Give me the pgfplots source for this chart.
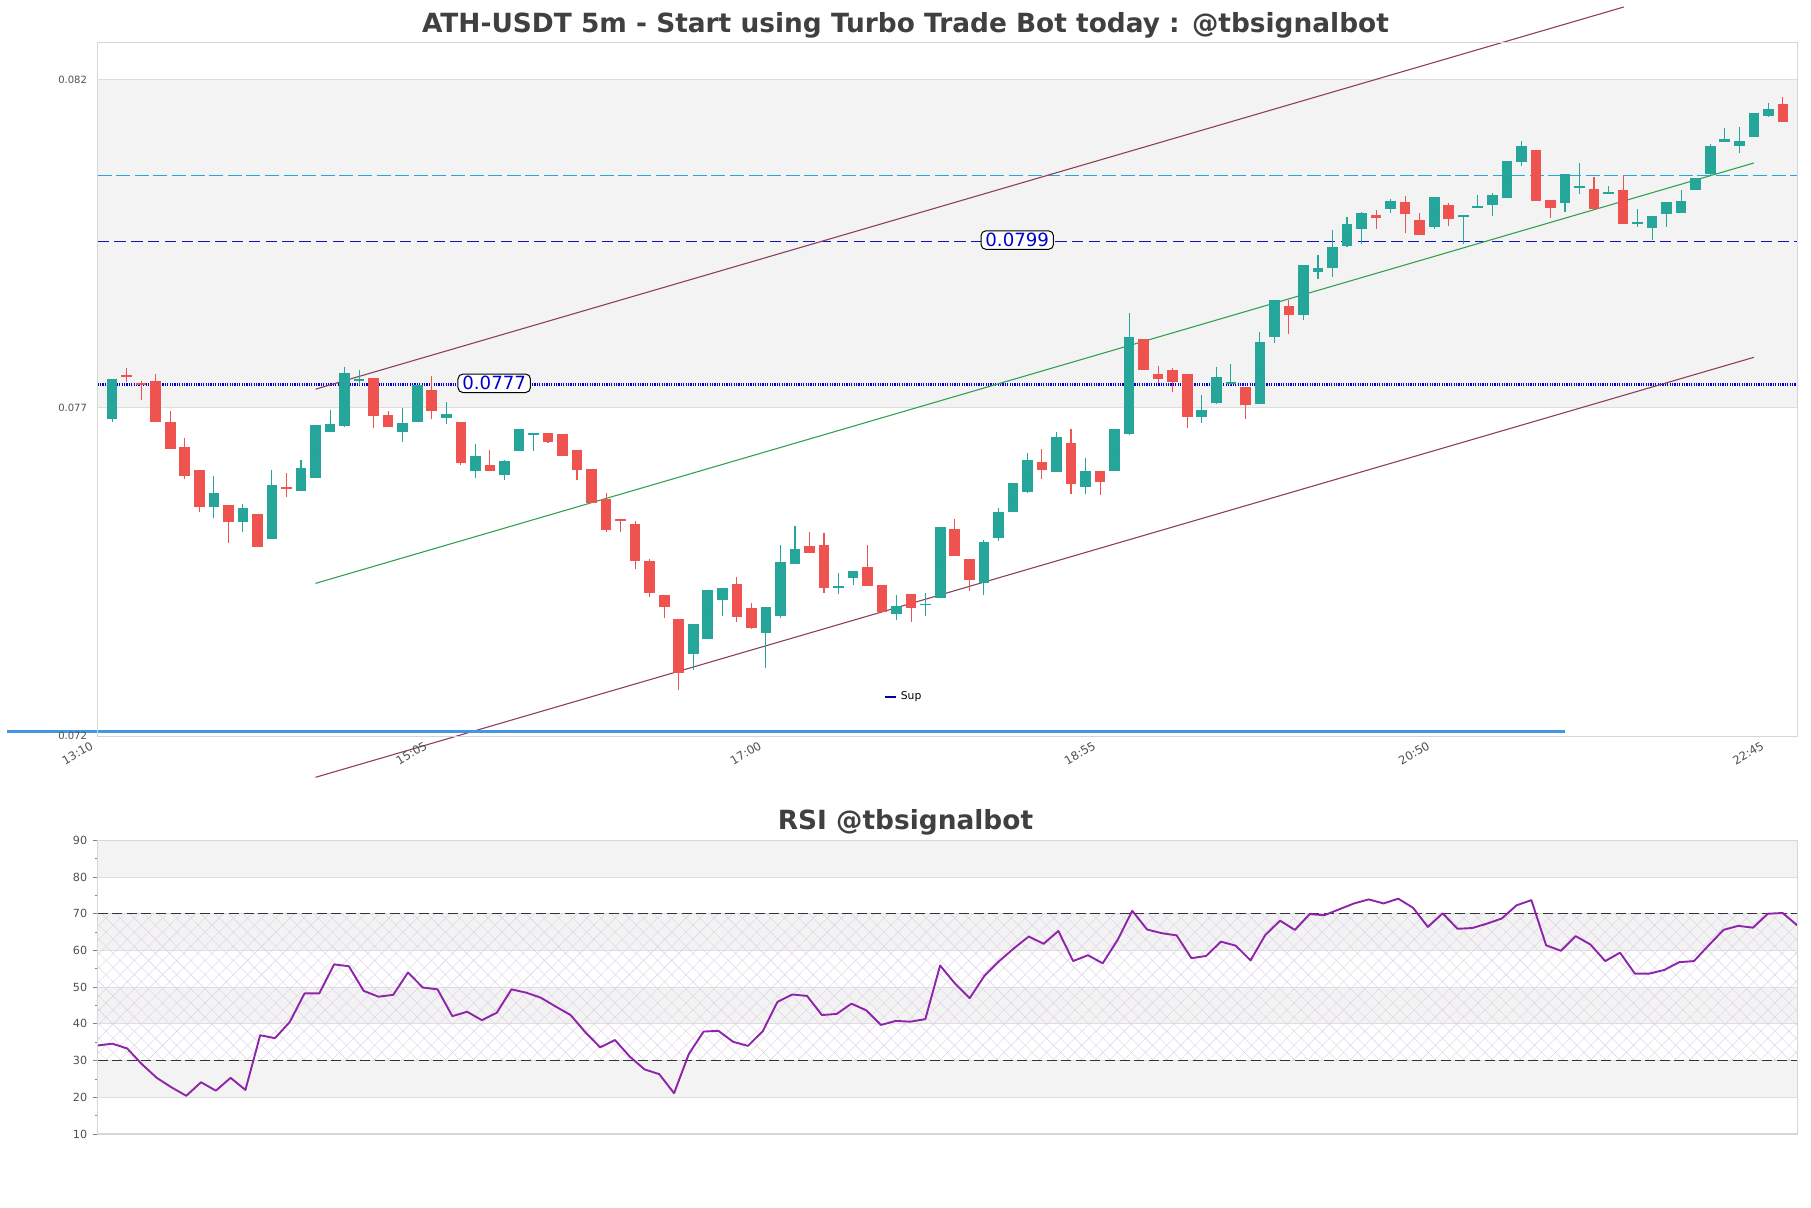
\documentclass[border=0pt]{standalone}
\usepackage{fontspec}
\setmainfont{DejaVu Sans}
\usepackage{pgfplots}
\pgfplotsset{compat=1.18}
\usepackage{pgfplotstable}
\usetikzlibrary{patterns.meta}

\definecolor{tvup}{RGB}{38,166,154}
\definecolor{tvdown}{RGB}{239,83,80}
\definecolor{band}{RGB}{243,243,243}
\definecolor{gridc}{RGB}{222,222,222}
\definecolor{framec}{RGB}{214,214,214}
\definecolor{tickc}{RGB}{80,80,80}
\definecolor{titlec}{RGB}{64,64,64}
\definecolor{chan}{RGB}{140,64,90}
\definecolor{midl}{RGB}{52,160,80}
\definecolor{cyanl}{RGB}{38,166,214}
\definecolor{resl}{RGB}{20,20,190}
\definecolor{supl}{RGB}{0,0,205}
\definecolor{barblue}{RGB}{66,150,230}
\definecolor{rsic}{RGB}{142,36,170}
\definecolor{hatchc}{RGB}{222,208,230}

% up candles (close >= open)
\pgfplotstableread{
i o h l c
0 0.077172 0.077786 0.077131 0.077786
7 0.075825 0.076296 0.075656 0.076035
9 0.075595 0.075866 0.075441 0.075810
11 0.075333 0.076388 0.075333 0.076158
13 0.076071 0.076542 0.076071 0.076419
14 0.076270 0.077079 0.076270 0.077079
15 0.076977 0.077310 0.076977 0.077095
16 0.077064 0.077965 0.077054 0.077878
17 0.077771 0.077924 0.077694 0.077781
20 0.076977 0.077335 0.076823 0.077115
21 0.077131 0.077699 0.077131 0.077699
23 0.077192 0.077438 0.077095 0.077248
25 0.076378 0.076782 0.076270 0.076603
27 0.076317 0.076542 0.076235 0.076526
28 0.076685 0.077018 0.076685 0.077018
29 0.076931 0.076946 0.076685 0.076946
40 0.073567 0.074023 0.073316 0.074023
41 0.073797 0.074545 0.073797 0.074545
42 0.074397 0.074576 0.074146 0.074576
45 0.073890 0.074284 0.073352 0.074284
46 0.074146 0.075236 0.074120 0.074975
47 0.074949 0.075533 0.074949 0.075175
50 0.074586 0.074811 0.074484 0.074606
51 0.074734 0.074842 0.074622 0.074842
54 0.074171 0.074468 0.074084 0.074299
56 0.074315 0.074494 0.074146 0.074330
57 0.074419 0.075513 0.074419 0.075513
60 0.074658 0.075322 0.074473 0.075280
61 0.075345 0.075800 0.075304 0.075740
62 0.075740 0.076188 0.075740 0.076188
63 0.076051 0.076654 0.076033 0.076541
65 0.076356 0.076965 0.076356 0.076893
67 0.076122 0.076571 0.076027 0.076368
69 0.076368 0.077019 0.076368 0.077019
70 0.076935 0.078806 0.076923 0.078430
75 0.077198 0.077533 0.077103 0.077306
76 0.077419 0.077969 0.077408 0.077814
77 0.077712 0.078011 0.077694 0.077730
79 0.077396 0.078501 0.077396 0.078352
80 0.078430 0.078997 0.078340 0.078997
82 0.078776 0.079535 0.078699 0.079535
83 0.079434 0.079685 0.079326 0.079494
84 0.079496 0.080069 0.079358 0.079813
85 0.079834 0.080274 0.079808 0.080167
86 0.080095 0.080356 0.079865 0.080336
88 0.080392 0.080551 0.080341 0.080520
91 0.080126 0.080581 0.080085 0.080581
93 0.080279 0.080300 0.079854 0.080300
94 0.080407 0.080612 0.080407 0.080443
95 0.080464 0.080638 0.080295 0.080612
96 0.080571 0.081134 0.080571 0.081134
97 0.081124 0.081442 0.081063 0.081365
100 0.080494 0.080935 0.080356 0.080935
101 0.080725 0.081109 0.080633 0.080740
103 0.080622 0.080750 0.080622 0.080658
105 0.080177 0.080402 0.080126 0.080197
106 0.080100 0.080290 0.079921 0.080290
107 0.080325 0.080505 0.080126 0.080505
108 0.080341 0.080694 0.080341 0.080520
109 0.080684 0.080878 0.080684 0.080878
110 0.080930 0.081396 0.080904 0.081365
111 0.081421 0.081646 0.081421 0.081472
112 0.081370 0.081657 0.081262 0.081447
113 0.081508 0.081872 0.081508 0.081872
114 0.081831 0.082025 0.081805 0.081933
}\upc

% down candles (close < open)
\pgfplotstableread{
i o h l c
1 0.077842 0.077950 0.077745 0.077832
2 0.077730 0.077760 0.077463 0.077694
3 0.077755 0.077863 0.077131 0.077131
4 0.077125 0.077294 0.076706 0.076706
5 0.076741 0.076875 0.076255 0.076301
6 0.076388 0.076388 0.075743 0.075825
8 0.075851 0.075851 0.075272 0.075595
10 0.075712 0.075712 0.075211 0.075211
12 0.076127 0.076337 0.075979 0.076107
18 0.077801 0.077801 0.077038 0.077218
19 0.077233 0.077294 0.077054 0.077054
22 0.077617 0.077832 0.077177 0.077300
24 0.077125 0.077125 0.076465 0.076501
26 0.076465 0.076695 0.076378 0.076378
30 0.076951 0.076951 0.076798 0.076823
31 0.076936 0.076936 0.076608 0.076608
32 0.076695 0.076695 0.076240 0.076388
33 0.076404 0.076404 0.075886 0.075886
34 0.075943 0.076030 0.075441 0.075467
35 0.075630 0.075630 0.075441 0.075615
36 0.075559 0.075610 0.074873 0.074996
37 0.074990 0.075021 0.074443 0.074504
38 0.074463 0.074463 0.074120 0.074289
39 0.074100 0.074100 0.073009 0.073265
43 0.074637 0.074750 0.074059 0.074135
44 0.074274 0.074340 0.073941 0.073966
48 0.075221 0.075436 0.075118 0.075118
49 0.075236 0.075426 0.074504 0.074581
52 0.074898 0.075236 0.074612 0.074612
53 0.074622 0.074622 0.074212 0.074212
55 0.074484 0.074484 0.074059 0.074274
58 0.075483 0.075632 0.075065 0.075065
59 0.075017 0.075017 0.074533 0.074706
64 0.076511 0.076708 0.076248 0.076391
66 0.076810 0.077019 0.076027 0.076176
68 0.076368 0.076368 0.076009 0.076200
71 0.078394 0.078394 0.077922 0.077922
72 0.077856 0.077981 0.077730 0.077790
73 0.077922 0.077951 0.077593 0.077748
74 0.077856 0.077856 0.077037 0.077198
78 0.077665 0.077665 0.077174 0.077384
81 0.078908 0.078997 0.078483 0.078776
87 0.080305 0.080382 0.080095 0.080264
89 0.080505 0.080597 0.080034 0.080325
90 0.080228 0.080331 0.080003 0.080003
92 0.080459 0.080484 0.080141 0.080249
98 0.081303 0.081303 0.080525 0.080525
99 0.080535 0.080535 0.080264 0.080418
102 0.080704 0.080884 0.080397 0.080397
104 0.080694 0.080925 0.080172 0.080172
115 0.082010 0.082123 0.081739 0.081739
}\downc

% RSI
\pgfplotstableread{
i r
0 34.1
1 34.6
2 33.3
3 29.0
4 25.3
5 22.7
6 20.4
7 24.1
8 21.8
9 25.3
10 22.0
11 36.9
12 36.1
13 40.5
14 48.3
15 48.3
16 56.2
17 55.7
18 49.0
19 47.4
20 47.9
21 54.0
22 49.9
23 49.4
24 42.1
25 43.3
26 41.0
27 43.0
28 49.4
29 48.5
30 47.1
31 44.7
32 42.4
33 37.7
34 33.6
35 35.6
36 31.1
37 27.6
38 26.3
39 21.1
40 31.8
41 37.9
42 38.1
43 35.1
44 34.0
45 38.0
46 46.0
47 48.0
48 47.6
49 42.4
50 42.7
51 45.5
52 43.7
53 39.7
54 40.8
55 40.6
56 41.3
57 55.9
58 51.0
59 47.0
60 53.1
61 57.1
62 60.6
63 63.8
64 61.8
65 65.3
66 57.1
67 58.7
68 56.5
69 62.8
70 70.8
71 65.7
72 64.7
73 64.1
74 57.9
75 58.5
76 62.4
77 61.3
78 57.3
79 64.2
80 68.1
81 65.6
82 69.9
83 69.6
84 71.2
85 72.8
86 73.9
87 72.8
88 74.1
89 71.6
90 66.4
91 70.1
92 65.9
93 66.1
94 67.3
95 68.7
96 72.3
97 73.7
98 61.4
99 59.9
100 63.9
101 61.6
102 57.1
103 59.4
104 53.7
105 53.7
106 54.7
107 56.8
108 57.1
109 61.4
110 65.6
111 66.7
112 66.2
113 70.0
114 70.2
115 66.8
}\rsi

\pgfplotsset{
  wick/.style={only marks, mark=*, mark size=0pt,
    mark options={draw=none, fill=none}, forget plot,
    error bars/.cd, y dir=both, y explicit, error mark=none,
    error bar style={draw=#1, solid, line width=0.55pt}},
  body/.style={only marks, mark=*, mark size=0pt,
    mark options={draw=none, fill=none}, forget plot,
    error bars/.cd, y dir=both, y explicit, error mark=none,
    error bar style={draw=#1, solid, line width=5.3pt}},
}

\begin{document}
\begin{tikzpicture}
\path[use as bounding box] (0pt,0pt) rectangle (905.5pt,604pt);

% titles
\node[anchor=base, text=titlec, font=\fontsize{13.2}{15}\selectfont\bfseries]
  at (452.75pt,587.85pt) {ATH-USDT 5m - Start using Turbo Trade Bot today : @tbsignalbot};
\node[anchor=base, text=titlec, font=\fontsize{13.2}{15}\selectfont\bfseries]
  at (452.75pt,189.35pt) {RSI @tbsignalbot};

% ---------------- main price axis ----------------
\begin{axis}[
  at={(48.8pt,235.65pt)}, anchor=south west,
  scale only axis, width=849.9pt, height=347pt,
  xmin=-1, xmax=116, ymin=0.072292, ymax=0.082952,
  clip=false, axis on top,
  axis line style={framec, line width=0.6pt},
  xtick={-1,22,45,68,91,114},
  xticklabels={13:10,15:05,17:00,18:55,20:50,22:45},
  ytick={0.072303,0.077341,0.082379},
  yticklabels={0.072,0.077,0.082},
  scaled y ticks=false,
  major tick length=0pt,
  xtick style={draw=none}, ytick style={draw=none},
  yticklabel style={font=\fontsize{5}{6}\selectfont, text=tickc, xshift=-1.8pt},
  xticklabel style={font=\fontsize{5.8}{7}\selectfont, text=tickc,
    rotate=30, anchor=north east, xshift=-1pt, yshift=3.6pt},
  legend style={at={(0.4749,0.0576)}, anchor=center, draw=none, fill=none,
    font=\fontsize{5.4}{6}\selectfont, inner sep=0pt},
  legend image code/.code={\draw[#1] (0pt,0pt) -- (5.4pt,0pt);},
]
% shaded band between ticks
\addplot[fill=band, draw=gridc, line width=0.5pt, forget plot]
  coordinates {(-1,0.077341) (116,0.077341) (116,0.082379) (-1,0.082379) (-1,0.077341)};

% horizontal levels
\addplot[cyanl, line width=0.8pt, dash pattern=on 7pt off 2.3pt, forget plot]
  coordinates {(-1,0.080914) (116,0.080914)};
\addplot[resl, line width=0.8pt, dash pattern=on 5.7pt off 2.7pt, forget plot]
  coordinates {(-1,0.0799) (116,0.0799)};
\addplot[supl, line width=1.3pt, dash pattern=on 0.6pt off 0.6pt, forget plot]
  coordinates {(-1,0.0777) (116,0.0777)};

% channel
\addplot[chan, line width=0.55pt, forget plot] coordinates {(14,0.07763) (104.05,0.0835)};
\addplot[midl, line width=0.55pt, forget plot] coordinates {(14,0.074647) (113,0.081104)};
\addplot[chan, line width=0.55pt, forget plot] coordinates {(14,0.071668) (113,0.078119)};

% bottom blue bar
\addplot[barblue, line width=1.5pt, forget plot] coordinates {(-7.24,0.072364) (100,0.072364)};

% candles: wicks
\addplot[wick=tvup] table[x=i, y expr={(\thisrow{h}+\thisrow{l})/2},
  y error expr={(\thisrow{h}-\thisrow{l})/2}] {\upc};
\addplot[wick=tvdown] table[x=i, y expr={(\thisrow{h}+\thisrow{l})/2},
  y error expr={(\thisrow{h}-\thisrow{l})/2}] {\downc};
% candles: bodies
\addplot[body=tvup] table[x=i, y expr={(\thisrow{o}+\thisrow{c})/2},
  y error expr={max(abs(\thisrow{c}-\thisrow{o})/2,0.000013)}] {\upc};
\addplot[body=tvdown] table[x=i, y expr={(\thisrow{o}+\thisrow{c})/2},
  y error expr={max(abs(\thisrow{c}-\thisrow{o})/2,0.000013)}] {\downc};

% level labels
\node[fill=white, draw=black, line width=0.5pt, rounded corners=2.5pt, text=supl,
  inner xsep=2.2pt, inner ysep=1.2pt, font=\fontsize{9.1}{10}\selectfont]
  at (axis cs:26.3,0.07772) {0.0777};
\node[fill=white, draw=black, line width=0.5pt, rounded corners=2.5pt, text=supl,
  inner xsep=2.2pt, inner ysep=1.2pt, font=\fontsize{9.1}{10}\selectfont]
  at (axis cs:62.3,0.07992) {0.0799};

\addlegendimage{color={rgb,255:red,0;green,0;blue,170}, line width=0.9pt}
\addlegendentry{Sup}
\end{axis}

% ---------------- RSI axis ----------------
\begin{axis}[
  at={(48.8pt,37pt)}, anchor=south west,
  scale only axis, width=849.9pt, height=146.85pt,
  xmin=0, xmax=115, ymin=10, ymax=90,
  axis on top,
  axis line style={framec, line width=0.6pt},
  xtick=\empty,
  ytick={10,20,...,90}, minor ytick={15,25,...,85},
  ytick pos=left,
  tick align=outside, major tick length=2.5pt, minor tick length=1.5pt,
  ytick style={draw=tickc!70, line width=0.4pt},
  minor tick style={draw=tickc!60, line width=0.3pt},
  yticklabel style={font=\fontsize{5.6}{6.5}\selectfont, text=tickc, xshift=0.8pt},
  /pgf/number format/assume math mode=true,
]
\addplot[fill=white, draw=gridc, line width=0.5pt, forget plot]
  coordinates {(0,10) (115,10) (115,90) (0,90) (0,10)};
\addplot[fill=band, draw=gridc, line width=0.5pt, forget plot]
  coordinates {(0,20) (115,20) (115,30) (0,30) (0,20)};
\addplot[fill=band, draw=gridc, line width=0.5pt, forget plot]
  coordinates {(0,40) (115,40) (115,50) (0,50) (0,40)};
\addplot[fill=band, draw=gridc, line width=0.5pt, forget plot]
  coordinates {(0,60) (115,60) (115,70) (0,70) (0,60)};
\addplot[fill=band, draw=gridc, line width=0.5pt, forget plot]
  coordinates {(0,80) (115,80) (115,90) (0,90) (0,80)};
\addplot[draw=gridc, line width=0.5pt, forget plot] coordinates {(0,30) (115,30)};
\addplot[draw=gridc, line width=0.5pt, forget plot] coordinates {(0,50) (115,50)};
\addplot[draw=gridc, line width=0.5pt, forget plot] coordinates {(0,70) (115,70)};
% hatched neutral zone
\addplot[draw=none, pattern={Hatch[distance=5pt, angle=45, line width=0.2pt]},
  pattern color=hatchc, forget plot]
  coordinates {(0,30) (115,30) (115,70) (0,70) (0,30)};
% 30 / 70 levels
\addplot[black!80, line width=0.7pt, dash pattern=on 5pt off 2.3pt, forget plot]
  coordinates {(0,30) (115,30)};
\addplot[black!80, line width=0.7pt, dash pattern=on 5pt off 2.3pt, forget plot]
  coordinates {(0,70) (115,70)};
% RSI line
\addplot[rsic, line width=0.95pt, line join=round, forget plot] table[x=i, y=r] {\rsi};
\end{axis}
\end{tikzpicture}
\end{document}
